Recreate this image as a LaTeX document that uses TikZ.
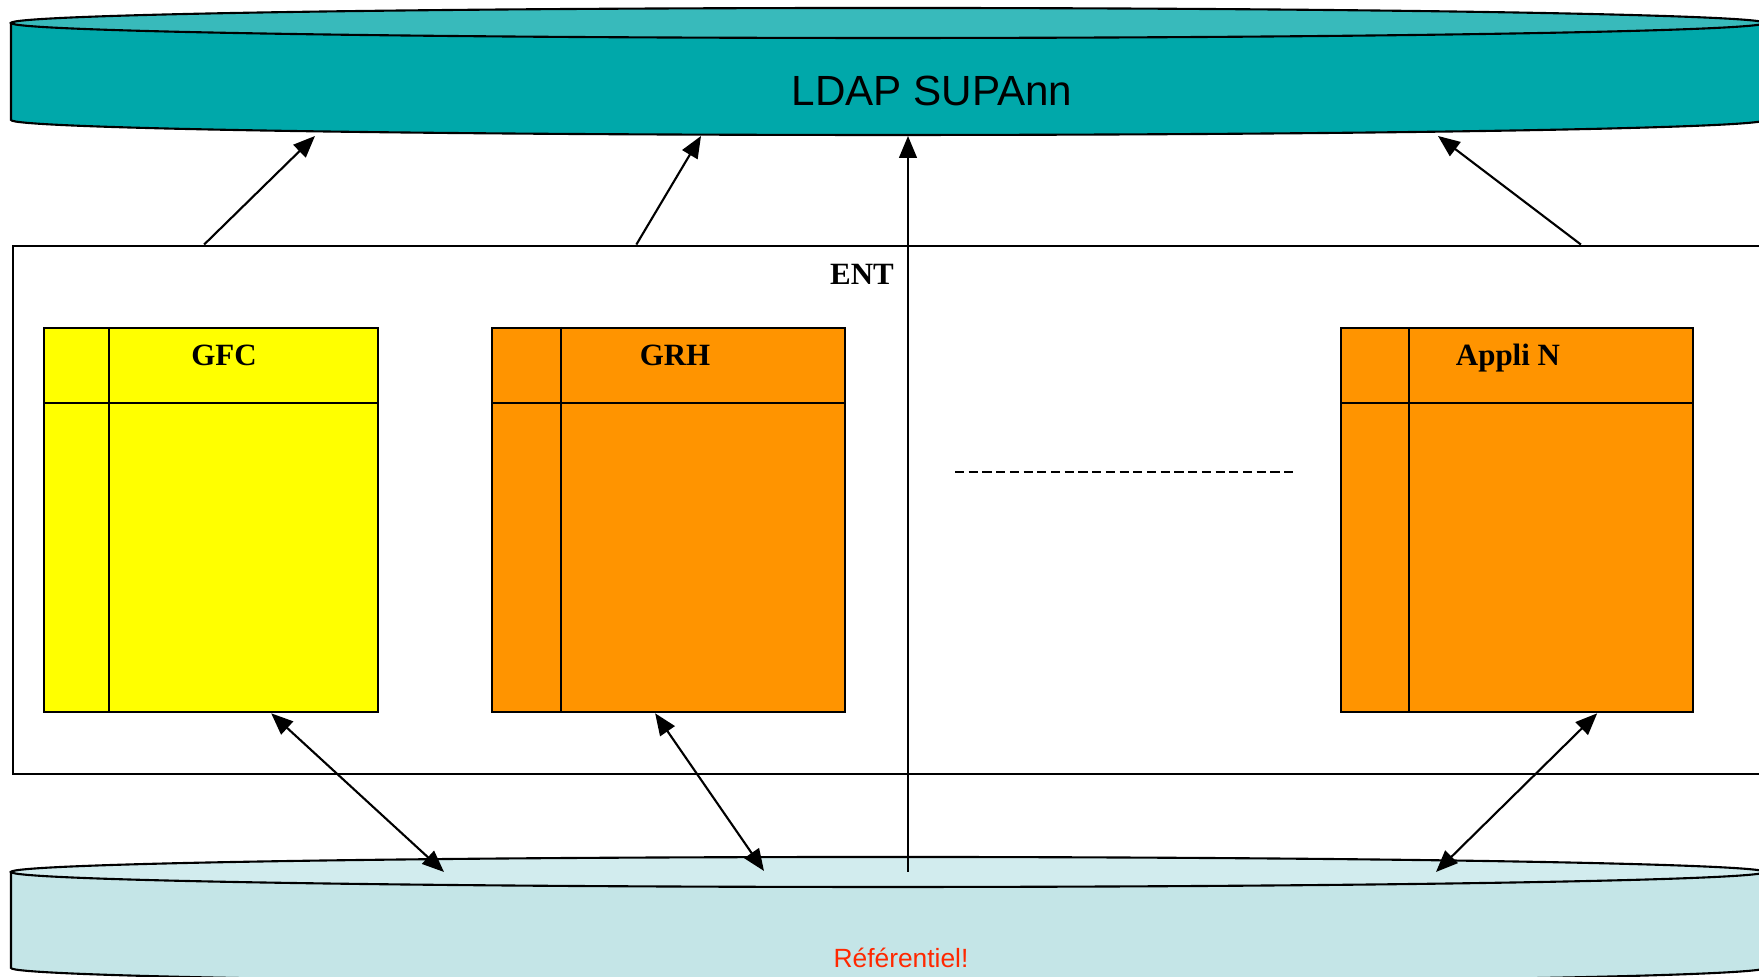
\documentclass[tikz,border=0pt]{standalone}
\usepackage{fontspec}
\setmainfont{Liberation Serif}
\setsansfont{Liberation Sans}
\usetikzlibrary{arrows.meta,positioning}
\definecolor{ldapbody}{RGB}{0,168,170}
\definecolor{ldaptop}{RGB}{56,186,187}
\definecolor{refbody}{RGB}{196,229,231}
\definecolor{reftop}{RGB}{210,236,238}
\definecolor{appyellow}{RGB}{255,255,0}
\definecolor{apporange}{RGB}{255,148,0}
\definecolor{refred}{RGB}{255,40,0}
\tikzset{
  appbox/.style={draw,anchor=north west,inner sep=0pt,minimum height=3.84cm},
  apptitle/.style={anchor=base,font=\bfseries\fontsize{8.8}{10}\selectfont},
  link/.style={-{Triangle[length=6.2pt,width=5pt]}},
  duplex/.style={{Triangle[length=6.2pt,width=5pt]}-{Triangle[length=6.2pt,width=5pt]}}
}

\begin{document}
\begin{tikzpicture}[x=0.01cm,y=0.01cm,line width=0.6pt]
            \useasboundingbox (0,0) rectangle (1759,977);
            \clip (0,0) rectangle (1759,977);
            % LDAP
            \draw[fill=ldapbody] (11,954) -- (11,857) arc[start angle=180,end angle=360,x radius=877,y radius=15] -- (1765,954) -- cycle;
            \draw[fill=ldaptop] (888,954) ellipse[x radius=877,y radius=15];
            \node[font=\sffamily\fontsize{12}{14}\selectfont,anchor=base] (ldap) at (932,871) {LDAP SUPAnn};
            % referentiel
            \draw[fill=refbody] (11,105) -- (11,9) arc[start angle=180,end angle=360,x radius=877,y radius=15] -- (1765,105) -- cycle;
            \draw[fill=reftop] (888,105) ellipse[x radius=877,y radius=15];
            \node[font=\sffamily\fontsize{7.5}{9}\selectfont,text=refred,anchor=base] (ref) at (901,9) {Référentiel!};
            % ENT
            \node[draw,anchor=south west,inner sep=0pt,minimum width=17.88cm,minimum height=5.28cm] (ent) at (12,202) {};
            \node[apptitle] (enttitle) at (862,692) {ENT};
            \node[appbox,fill=appyellow,minimum width=3.34cm] (gfc) at (43,650) {};
            \node[appbox,fill=apporange,minimum width=3.53cm] (grh) at (491,650) {};
            \node[appbox,fill=apporange,minimum width=3.52cm] (applin) at (1340,650) {};
            \draw ([xshift=0.66cm]gfc.north west) -- ([xshift=0.66cm]gfc.south west);
            \draw ([yshift=-0.76cm]gfc.north west) -- ([yshift=-0.76cm]gfc.north east);
            \draw ([xshift=0.70cm]grh.north west) -- ([xshift=0.70cm]grh.south west);
            \draw ([yshift=-0.76cm]grh.north west) -- ([yshift=-0.76cm]grh.north east);
            \draw ([xshift=0.69cm]applin.north west) -- ([xshift=0.69cm]applin.south west);
            \draw ([yshift=-0.76cm]applin.north west) -- ([yshift=-0.76cm]applin.north east);
            \node[apptitle] (gfctitle) at (224,611) {GFC};
            \node[apptitle] (grhtitle) at (675,611) {GRH};
            \node[apptitle] (applintitle) at (1508,611) {Appli N};
            \draw[dash pattern=on 2.6pt off 1.3pt] (955,505) -- (1293,505);
            % links
            \coordinate (ldap-a) at (315,841);
            \coordinate (ldap-b) at (701,841);
            \coordinate (ldap-c) at (908,841);
            \coordinate (ldap-d) at (1438,841);
            \coordinate (ref-a) at (444,105);
            \coordinate (ref-b) at (764,106);
            \coordinate (ref-c) at (908,105);
            \coordinate (ref-d) at (1436,105);
            \draw[link] ([xshift=1.92cm]ent.north west) -- (ldap-a);
            \draw[link] ([xshift=6.24cm]ent.north west) -- (ldap-b);
            \draw[link] (ref-c) -- (ldap-c);
            \draw[link] ([xshift=15.68cm]ent.north west) -- (ldap-d);
            \draw[duplex] ([xshift=0.60cm]gfc.south) -- (ref-a);
            \draw[duplex] ([xshift=-0.135cm]grh.south) -- (ref-b);
            \draw[duplex] ([xshift=0.80cm]applin.south) -- (ref-d);
        \end{tikzpicture}
\end{document}
